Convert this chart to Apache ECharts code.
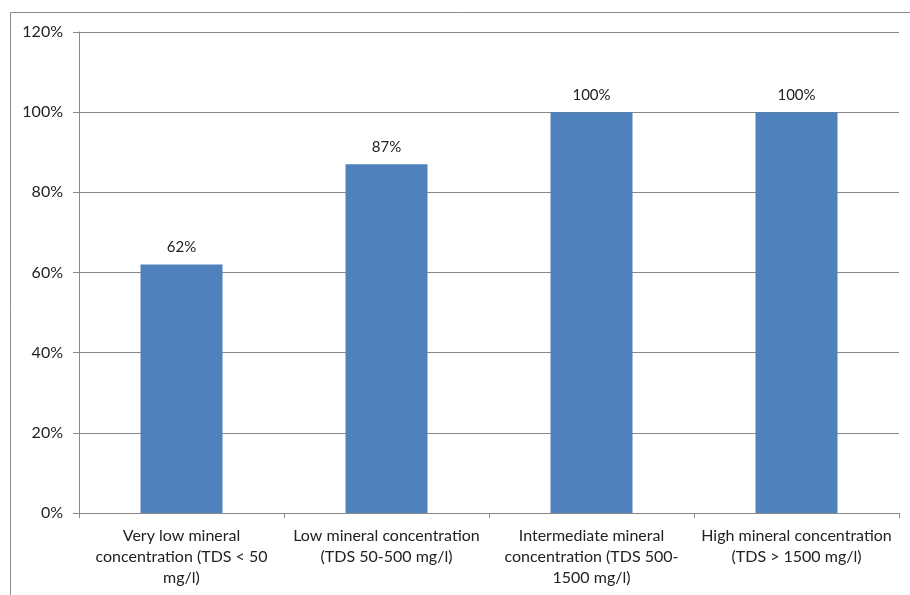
<!DOCTYPE html>
<html><head><meta charset="utf-8">
<script src="https://cdn.jsdelivr.net/npm/echarts@6/dist/echarts.min.js"></script>
<style>html,body{margin:0;padding:0;background:#fff}#c{width:910px;height:595px}</style>
</head><body><div id="c"></div>
<script>
const categories = [
  "Very low mineral\nconcentration (TDS < 50\nmg/l)",
  "Low mineral concentration\n(TDS 50-500 mg/l)",
  "Intermediate mineral\nconcentration (TDS 500-\n1500 mg/l)",
  "High mineral concentration\n(TDS > 1500 mg/l)"
];
const values = [62, 87, 100, 100];
const yTicks = [0, 20, 40, 60, 80, 100, 120];

const chart = echarts.init(document.getElementById('c'));
const font = 'Lato, "Open Sans", sans-serif';
chart.setOption({
  animation: false,
  graphic: [{
    type: 'rect', shape: {x: 10.5, y: 12.5, width: 1000, height: 1000},
    style: {fill: 'none', stroke: '#8c8c8c', lineWidth: 1}, silent: true, z: -1
  }],
  grid: {left: 79, right: 11, top: 32, bottom: 82},
  xAxis: {
    type: 'category', data: categories,
    axisLine: {lineStyle: {color: '#888', width: 1}},
    axisTick: {show: true, length: 5, lineStyle: {color: '#888'}},
    axisLabel: {color: '#222', fontSize: 16, fontFamily: font, lineHeight: 21, margin: 12, interval: 0}
  },
  yAxis: {
    type: 'value', min: yTicks[0], max: yTicks[yTicks.length-1], interval: 20,
    axisLine: {show: true, lineStyle: {color: '#888', width: 1}},
    axisTick: {show: true, length: 6, lineStyle: {color: '#888'}},
    splitLine: {lineStyle: {color: '#888', width: 1}},
    axisLabel: {color: '#222', fontSize: 16, fontFamily: font, margin: 16, formatter: v => v + '%'}
  },
  series: [{
    type: 'bar', data: values, barWidth: 82,
    itemStyle: {color: '#4f81bd'},
    label: {show: true, position: 'top', distance: 10, color: '#222', fontSize: 15, fontFamily: font, formatter: p => p.value + '%'}
  }]
});
</script></body></html>
